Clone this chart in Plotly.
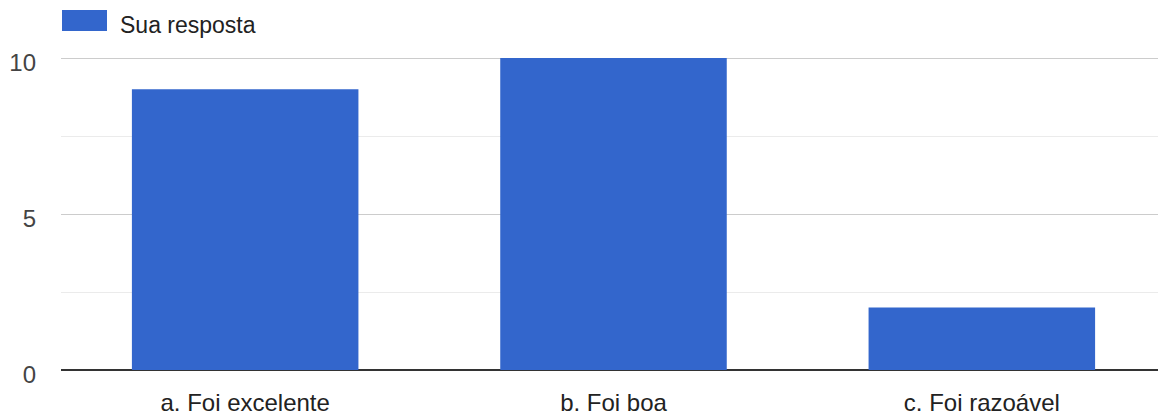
import plotly.graph_objects as go

categories = ["a. Foi excelente", "b. Foi boa", "c. Foi razoável"]
values = [9, 10, 2]
series_name = "Sua resposta"
y_ticks = [0, 5, 10]

# page has an 8px body margin; figure sized so it ends at the window edge
OFF = 8
W, H = 1166 - OFF, 416 - OFF
L, R, T, B = 53, 0, 42, 46
pw, ph = W - L - R, H - T - B
ymax = 10 * ph / 312.0

fig = go.Figure()
fig.add_trace(go.Bar(x=categories, y=values, name=series_name,
                     marker=dict(color="#3366cc", line=dict(width=0)),
                     showlegend=False, hoverinfo="x+y"))

def px_to_paper_x(p):
    return (p - OFF - L) / pw

def px_to_paper_y(p):
    return (H - B - (p - OFF)) / ph

fig.add_shape(type="rect", xref="paper", yref="paper",
              x0=px_to_paper_x(62), x1=px_to_paper_x(107),
              y0=px_to_paper_y(31), y1=px_to_paper_y(10),
              fillcolor="#3366cc", line=dict(width=0))
fig.add_annotation(xref="paper", yref="paper", x=px_to_paper_x(118), y=px_to_paper_y(25),
                   text=series_name, showarrow=False, xanchor="left", yanchor="middle",
                   font=dict(family="Liberation Sans, Arial", size=23, color="#222222"))

fig.update_layout(
    width=W, height=H,
    margin=dict(l=L, r=R, t=T, b=B, pad=0),
    paper_bgcolor="white", plot_bgcolor="white",
    bargap=0.385,
    font=dict(family="Liberation Sans, Arial", size=24, color="#444444"),
)
fig.update_xaxes(showgrid=False, showline=False, ticks="", tickfont=dict(size=24, color="#222222"),
                 ticklabelstandoff=16)
fig.update_yaxes(range=[0, ymax], tickvals=y_ticks, ticktext=[str(v) for v in y_ticks],
                 showgrid=True, gridcolor="#cccccc", gridwidth=1,
                 zeroline=True, zerolinecolor="#333333", zerolinewidth=2,
                 minor=dict(tickvals=[2.5, 7.5], showgrid=True, gridcolor="#ebebeb", gridwidth=1),
                 showline=False, ticks="", ticklabelstandoff=24, ticklabelshift=5,
                 tickfont=dict(size=24, color="#444444"))

fig.write_html("out.html")
